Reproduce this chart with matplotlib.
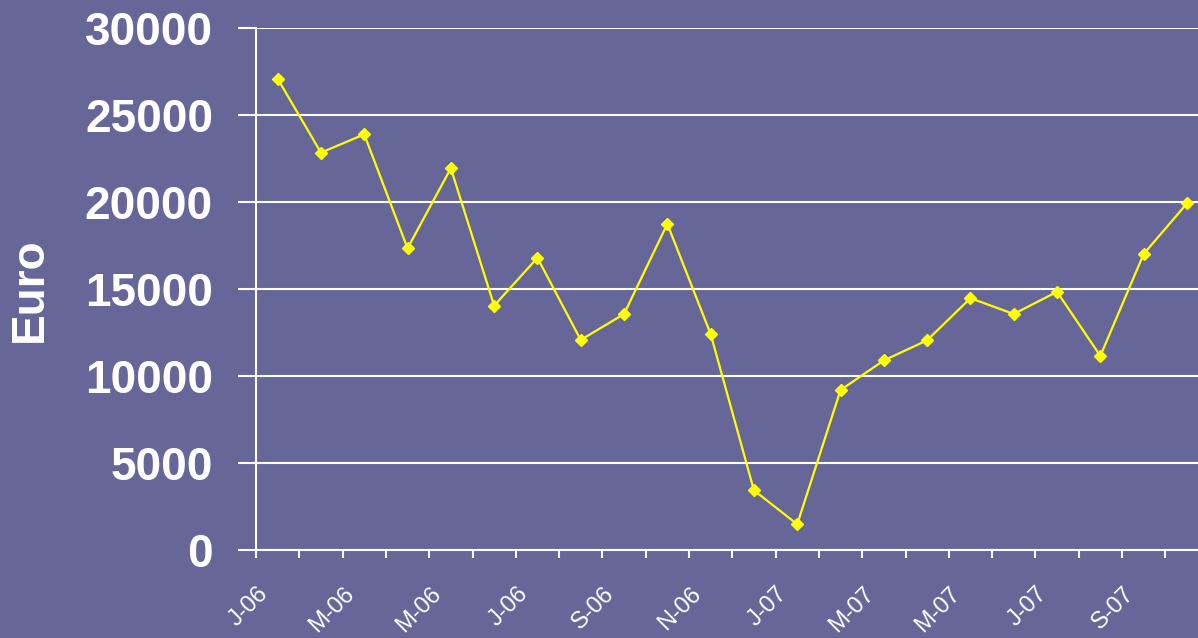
import matplotlib
matplotlib.use('Agg')
import matplotlib.pyplot as plt
import matplotlib.transforms as mtransforms

plt.rcParams['font.family'] = ['Liberation Sans', 'DejaVu Sans']

# Monthly values Jan-06 .. Oct-07 (Euro)
values = [27100, 22850, 23900, 17350, 21950, 14050, 16800, 12080, 13570, 18750,
          12420, 3430, 1480, 9200, 10900, 12060, 14480, 13570, 14850, 11160,
          17020, 19930]
tick_labels = ['J-06', 'M-06', 'M-06', 'J-06', 'S-06', 'N-06',
               'J-07', 'M-07', 'M-07', 'J-07', 'S-07']
y_ticks = [0, 5000, 10000, 15000, 20000, 25000, 30000]

bg = '#666699'
fig = plt.figure(figsize=(11.98, 6.38), dpi=100, facecolor=bg)
ax = fig.add_axes([256 / 1198, 88 / 638, 952.6 / 1198, 521.7 / 638])
ax.set_facecolor(bg)

x = list(range(len(values)))
ax.plot(x, values, color='#ffff00', linewidth=1.6, marker='D',
        markersize=6.5, markerfacecolor='#ffff00', markeredgecolor='#ffff00',
        zorder=3, clip_on=False)

ax.set_xlim(-0.5, len(values) - 0.5)
ax.set_ylim(0, 30000)

# y axis
ax.set_yticks(y_ticks)
ax.set_yticklabels([str(v) for v in y_ticks], fontsize=33, fontweight='bold',
                   color='white')
ax.tick_params(axis='y', length=13, width=1.5, color='white', pad=18)
ax.grid(axis='y', color='white', linewidth=1.5)
ax.set_axisbelow(True)

# x axis: tick marks at category boundaries, labels on every other category
ax.set_xticks([i - 0.5 for i in range(len(values) + 1)])
ax.set_xticklabels([])
ax.tick_params(axis='x', which='major', length=6, width=1.5, color='white')
ax.set_xticks(list(range(0, len(values), 2)), minor=True)
ax.set_xticklabels(tick_labels, minor=True, fontsize=17, color='white',
                   rotation=45, ha='right', va='center', rotation_mode='anchor')
ax.tick_params(axis='x', which='minor', length=0, pad=29)
offset = mtransforms.ScaledTranslation(-13 / 100, 0, fig.dpi_scale_trans)
for lab in ax.get_xticklabels(minor=True):
    lab.set_transform(lab.get_transform() + offset)

for side in ['top', 'right']:
    ax.spines[side].set_visible(False)
for side in ['left', 'bottom']:
    ax.spines[side].set_color('white')
    ax.spines[side].set_linewidth(1.5)

fig.text(30 / 1198, 1 - 290 / 638, 'Euro', rotation=90, fontsize=33,
         fontweight='bold', color='white', ha='center', va='center')

fig.savefig('out.png', dpi=100, facecolor=bg)
